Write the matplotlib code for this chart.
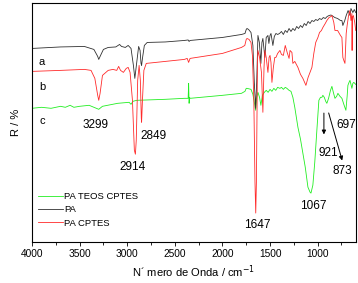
import matplotlib
matplotlib.use("Agg")
import matplotlib.pyplot as plt

plt.rcParams['font.family'] = ['Liberation Sans', 'DejaVu Sans']

# PA (curve a)
pa_wn = [4000, 3700, 3450, 3350, 3310, 3299, 3280, 3250, 3200, 3120, 3080, 3060, 3020, 2990, 2960,
         2935, 2920, 2905, 2880, 2865, 2855, 2849, 2840, 2820, 2790, 2600, 2400, 2360, 2350, 2340,
         2000, 1800, 1763, 1750, 1742, 1725, 1700, 1680, 1665, 1651, 1640, 1627, 1612, 1596, 1585,
         1575, 1554, 1540, 1522, 1512, 1500, 1490, 1470, 1455, 1438, 1420, 1400, 1380, 1360, 1340,
         1320, 1300, 1280, 1260, 1240, 1220, 1200, 1180, 1160, 1140, 1120, 1100, 1080, 1060, 1040,
         1020, 1000, 980, 960, 940, 920, 900, 880, 860, 850, 820, 790, 760, 745, 735, 715, 700, 680,
         660, 650, 630, 615, 600]
pa_r = [194, 195.5, 196, 193, 186, 183, 187, 193, 195, 195.5, 198, 196, 195, 197, 194,
        177, 164, 176, 196, 192, 179, 177, 184, 197, 200, 200.5, 202, 202.5, 201, 202,
        205, 208, 209, 213, 214, 213, 210, 197, 160, 134, 160, 207, 200, 179, 200,
        204, 185, 205, 207, 199, 207, 209, 197, 206, 209, 208, 209, 211, 208, 212,
        210, 214, 211, 214, 212, 216, 214, 217, 215, 219, 217, 221, 219, 222, 221,
        223, 222, 224, 223, 225, 224, 226, 227, 227.5, 227, 225, 224, 222, 222, 217, 222, 227, 232,
        227, 234, 230, 233, 230]

# PA CPTES (curve b)
pac_wn = [4000, 3700, 3450, 3380, 3340, 3310, 3299, 3285, 3260, 3200, 3150, 3110, 3090, 3070, 3040,
          3010, 2990, 2970, 2945, 2925, 2914, 2905, 2890, 2875, 2862, 2852, 2849, 2840, 2825, 2800,
          2600, 2400, 2370, 2355, 2340, 2000, 1800, 1765, 1750, 1742, 1720, 1700, 1685, 1670, 1658,
          1650, 1643, 1632, 1627, 1610, 1590, 1575, 1563, 1554, 1540, 1522, 1510, 1500, 1490, 1480,
          1465, 1450, 1438, 1420, 1396, 1380, 1360, 1340, 1320, 1300, 1290, 1270, 1260, 1240, 1207,
          1180, 1155, 1123, 1100, 1080, 1060, 1040, 1020, 997, 980, 960, 945, 920, 903, 880, 860,
          850, 830, 818, 790, 760, 745, 735, 725, 713, 700, 690, 675, 661, 650, 640, 638, 635, 625,
          610, 600]
pac_r = [171, 172, 173, 172, 164, 147, 142, 149, 167, 172, 173, 172, 176, 172, 170,
         174, 175, 170, 142, 92, 88, 102, 162, 177, 162, 124, 120, 142, 172, 179,
         181, 183, 184, 180, 184, 189, 195, 197, 203, 204, 203, 200, 187, 142, 60,
         29, 60, 180, 192, 185, 170, 130, 175, 192, 185, 170, 185, 187, 180, 160,
         175, 185, 185, 189, 192, 188, 187, 197, 190, 184, 192, 190, 179, 181, 175,
         168, 164, 157, 165, 170, 175, 189, 200, 205, 210, 212, 215, 219, 222, 225, 226,
         227, 220, 212, 212, 207, 205, 185, 182, 179, 209, 217, 227, 232, 222, 229, 192, 225, 227,
         220, 212]

# PA TEOS CPTES (curve c)
pat_wn = [4000, 3900, 3800, 3700, 3650, 3600, 3560, 3500, 3400, 3299, 3260, 3100, 2980, 2960, 2940,
          2900, 2600, 2400, 2360, 2355, 2350, 2345, 2340, 2000, 1800, 1763, 1750, 1742, 1700, 1680,
          1665, 1651, 1640, 1627, 1610, 1596, 1580, 1560, 1540, 1520, 1500, 1480, 1460, 1440, 1420,
          1396, 1380, 1360, 1340, 1323, 1300, 1280, 1260, 1240, 1207, 1180, 1155, 1130, 1102, 1080,
          1070, 1050, 1030, 1008, 987, 970, 955, 945, 930, 915, 903, 885, 865, 850, 835, 818, 800,
          787, 765, 745, 725, 703, 690, 682, 670, 660, 650, 640, 630, 620, 600]
pat_r = [134, 135, 134, 136, 135, 137, 135, 136, 137, 133, 136, 139, 140, 138, 141,
         142, 143, 144, 144, 159, 139, 145, 144, 147, 149, 151, 154, 154, 153, 148,
         140, 132, 145, 150, 145, 137, 147, 150, 152, 150, 153, 151, 154, 152, 155,
         154, 155, 153, 155, 154, 152, 151, 145, 135, 115, 103, 89, 75, 55, 50,
         49, 57, 80, 112, 142, 145, 145, 147, 145, 141, 139, 144, 152, 156, 150, 144, 146,
         149, 146, 144, 138, 132, 146, 157, 160, 162, 158, 154, 159, 160, 158]

curve_labels = ['a', 'b', 'c']
peak_labels = ['3299', '2849', '2914', '1647', '1067', '921', '873', '697']
peak_x = [3328, 2729, 2940, 1637, 1050, 892, 745, 703]
peak_y = [117, 106, 75, 17, 36, 89, 71, 117]
xticks = [4000, 3500, 3000, 2500, 2000, 1500, 1000]

fig = plt.figure(figsize=(3.58, 2.83), dpi=100)
ax = fig.add_axes([0.0894, 0.1449, 0.9042, 0.8461])

c_green = '#22ee22'
c_black = '#303030'
c_red = '#ff2a2a'
lg, = ax.plot(pat_wn, pat_r, color=c_green, lw=0.6, label='PA TEOS CPTES')
lb, = ax.plot(pa_wn, pa_r, color=c_black, lw=0.6, label='PA')
lr, = ax.plot(pac_wn, pac_r, color=c_red, lw=0.6, label='PA CPTES')

ax.set_xlim(4000, 600)
ax.set_ylim(0, 240)
ax.set_xticks(xticks)
ax.set_xticks(range(3750, 600, -500), minor=True)
ax.tick_params(axis='x', which='major', direction='out', length=3, width=0.6,
               labelsize=7.3, pad=2)
ax.tick_params(axis='x', which='minor', direction='out', length=2.5, width=0.6)
ax.set_yticks([])
for s in ax.spines.values():
    s.set_linewidth(0.8)

ax.set_xlabel('N\u00b4 mero de Onda / cm$^{-1}$', fontsize=8, labelpad=3)
ax.set_ylabel('R / %', fontsize=8, labelpad=8)

for lab, yy in zip(curve_labels, [180, 155, 121]):
    ax.text(3895, yy, lab, fontsize=8, ha='center', va='center')
for lab, xx, yy in zip(peak_labels, peak_x, peak_y):
    ax.text(xx, yy, lab, fontsize=8.5, ha='center', va='center')

ax.annotate('', xy=(934, 105), xytext=(934, 132),
            arrowprops=dict(arrowstyle='-|>', color='black', lw=0.7, mutation_scale=6))
ax.annotate('', xy=(734, 79), xytext=(892, 132),
            arrowprops=dict(arrowstyle='-|>', color='black', lw=0.7, mutation_scale=6))

leg = ax.legend(handles=[lg, lb, lr], loc='lower left', bbox_to_anchor=(0.02, 0.06),
                frameon=False, fontsize=6.8, handlelength=2.6, handletextpad=0.15,
                labelspacing=0.45, borderaxespad=0, borderpad=0)

fig.savefig('out.png', dpi=100)
